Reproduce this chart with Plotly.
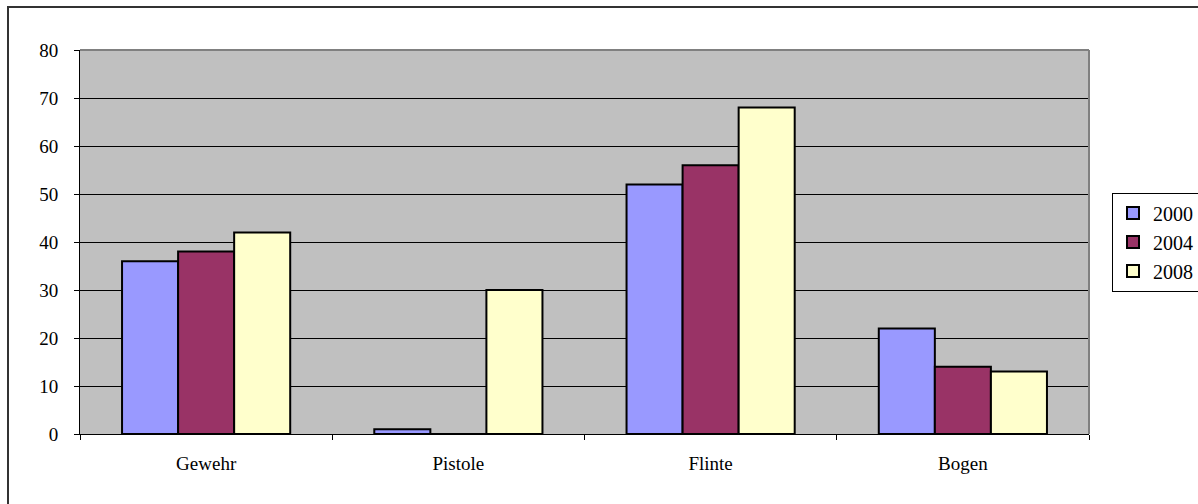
import plotly.graph_objects as go

categories = ["Gewehr", "Pistole", "Flinte", "Bogen"]
years = ["2000", "2004", "2008"]
values_2000 = [36, 1, 52, 22]
values_2004 = [38, 0, 56, 14]
values_2008 = [42, 30, 68, 13]
series_colors = ["#9999FF", "#993366", "#FFFFCC"]
y_ticks = [0, 10, 20, 30, 40, 50, 60, 70, 80]

W, H = 1198, 504
M_L, M_R, M_T, M_B = 80, 109, 50, 70
plot_w = W - M_L - M_R
plot_h = H - M_T - M_B

serif = "Liberation Serif, Times New Roman, serif"

fig = go.Figure()
for name, vals, col in zip(years, [values_2000, values_2004, values_2008], series_colors):
    fig.add_trace(go.Bar(
        x=categories, y=vals, name=name, legendgroup=name,
        marker=dict(color=col, line=dict(color="black", width=2)),
    ))

# outer chart frame (only top and left edges fall inside the page)
fig.add_shape(type="rect", xref="paper", yref="paper",
              x0=(8 - M_L) / plot_w, x1=(W + 20 - M_L) / plot_w,
              y0=-(H + 20 - M_T - plot_h) / plot_h, y1=(H - M_B - 7) / plot_h,
              line=dict(color="#333333", width=2), layer="below")

# plot-area frame on top and right
fig.add_shape(type="line", xref="paper", yref="paper", x0=0, x1=1, y0=1, y1=1,
              line=dict(color="#808080", width=2))
fig.add_shape(type="line", xref="paper", yref="paper", x0=1, x1=1, y0=0, y1=1,
              line=dict(color="#808080", width=2))

fig.update_layout(
    width=W, height=H,
    margin=dict(l=M_L, r=M_R, t=M_T, b=M_B, autoexpand=False),
    paper_bgcolor="white", plot_bgcolor="#C0C0C0",
    barmode="group", bargap=1.5 / 4.5, bargroupgap=0,
    font=dict(family=serif, size=19, color="black"),
    showlegend=True,
    legend=dict(
        x=(1112 - M_L) / plot_w, xanchor="left",
        y=0.5, yanchor="middle",
        bgcolor="white", bordercolor="black", borderwidth=1,
        font=dict(family=serif, size=20, color="black"),
        traceorder="normal", tracegroupgap=8,
        entrywidth=90, entrywidthmode="pixels",
    ),
    xaxis=dict(
        showline=True, linecolor="black", linewidth=1,
        ticks="outside", tickson="boundaries", ticklen=5, tickcolor="black",
        showgrid=False, ticklabelstandoff=12,
    ),
    yaxis=dict(
        range=[0, 80], tickvals=y_ticks,
        showline=True, linecolor="black", linewidth=1,
        ticks="outside", ticklen=5, tickcolor="black",
        showgrid=True, gridcolor="black", gridwidth=1,
        zeroline=False, ticklabelstandoff=12,
    ),
)

fig.write_html("out.html")
